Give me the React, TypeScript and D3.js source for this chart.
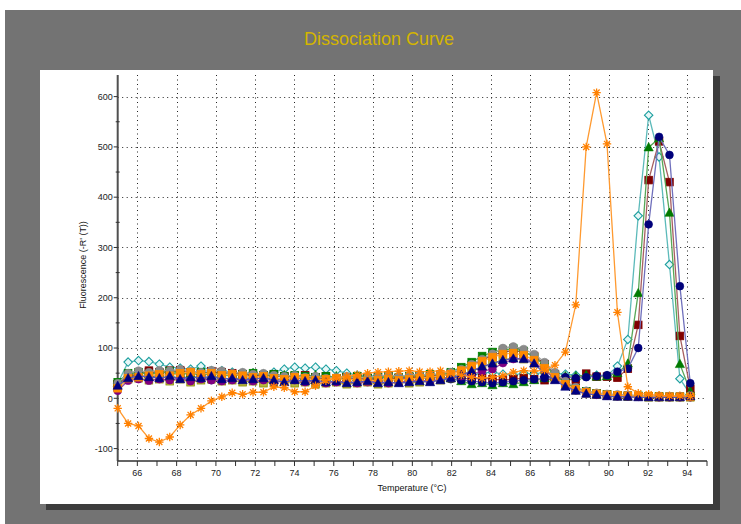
import React from 'react';
import * as d3 from 'd3';

// Melt-step temperatures (°C), shared by every well
const temperatures = [
  65.0, 65.53, 66.06, 66.59, 67.12, 67.65, 68.18, 68.71, 69.24, 69.77,
  70.3, 70.83, 71.36, 71.89, 72.42, 72.95, 73.48, 74.01, 74.54, 75.07,
  75.6, 76.13, 76.66, 77.19, 77.72, 78.25, 78.78, 79.31, 79.84, 80.37,
  80.9, 81.43, 81.96, 82.49, 83.02, 83.55, 84.08, 84.61, 85.14, 85.67,
  86.2, 86.73, 87.26, 87.79, 88.32, 88.85, 89.38, 89.91, 90.44, 90.97,
  91.5, 92.03, 92.56, 93.09, 93.62, 94.15,
];

const tempTicks = [66, 68, 70, 72, 74, 76, 78, 80, 82, 84, 86, 88, 90, 92, 94];
const tempMinorTicks = [65, 67, 69, 71, 73, 75, 77, 79, 81, 83, 85, 87, 89, 91, 93, 95];
const fluorTicks = [-100, 0, 100, 200, 300, 400, 500, 600];
const fluorMinorTicks = [-50, 50, 150, 250, 350, 450, 550];

// -R'(T) per well
const tealDiamond = [
  30, 72, 75, 73, 68, 62, 60, 58, 64, 55, 55, 52, 50, 50, 48, 52, 58, 62, 60, 62,
  58, 55, 50, 46, 45, 44, 46, 42, 44, 45, 44, 46, 45, 44, 46, 50, 52, 48, 46, 50,
  48, 52, 50, 48, 46, 44, 46, 45, 64, 117, 363, 563, 480, 266, 39, 8,
];
const maroonSquareHigh = [
  28, 45, 48, 52, 50, 55, 54, 48, 50, 46, 52, 50, 48, 46, 44, 45, 42, 44, 46, 42,
  44, 40, 42, 44, 40, 42, 44, 40, 42, 44, 42, 40, 42, 40, 38, 40, 38, 36, 38, 40,
  38, 36, 38, 37, 37, 49, 43, 43, 41, 59, 146, 434, 511, 430, 124, 19,
];
const greenTriangleHigh = [
  30, 48, 50, 48, 52, 50, 48, 50, 46, 48, 46, 44, 48, 50, 46, 44, 46, 42, 44, 46,
  42, 44, 40, 42, 44, 40, 42, 44, 42, 40, 44, 42, 40, 34, 28, 30, 26, 30, 28, 32,
  36, 40, 42, 44, 44, 46, 43, 44, 50, 69, 209, 499, 517, 369, 68, 14,
];
const navyCircleHigh = [
  25, 42, 45, 44, 42, 40, 42, 40, 44, 36, 40, 38, 40, 38, 42, 38, 36, 40, 38, 40,
  36, 38, 40, 36, 38, 40, 36, 38, 40, 38, 42, 40, 38, 36, 34, 32, 30, 32, 34, 36,
  38, 40, 40, 42, 40, 42, 44, 46, 53, 59, 100, 346, 520, 484, 223, 30,
];
const oliveSquare = [
  22, 38, 40, 36, 38, 34, 38, 32, 36, 38, 34, 36, 32, 34, 30, 32, 34, 30, 32, 28,
  30, 32, 28, 30, 32, 28, 30, 32, 30, 32, 34, 36, 40, 46, 54, 62, 70, 76, 80, 78,
  70, 56, 40, 26, 16, 10, 7, 5, 4, 3, 3, 2, 2, 2, 2, 2,
];
const maroonSquareLow = [
  28, 42, 48, 55, 52, 50, 56, 52, 48, 54, 50, 46, 48, 44, 46, 48, 44, 42, 40, 42,
  38, 40, 42, 38, 40, 36, 38, 40, 42, 40, 44, 46, 50, 56, 66, 76, 86, 92, 95, 92,
  84, 68, 48, 32, 20, 14, 10, 8, 6, 5, 4, 4, 3, 3, 3, 5,
];
const greenSquare = [
  32, 50, 52, 48, 50, 54, 50, 48, 52, 48, 50, 46, 48, 50, 46, 48, 44, 46, 44, 42,
  44, 40, 42, 44, 40, 42, 44, 42, 44, 46, 48, 46, 52, 62, 72, 84, 92, 96, 99, 94,
  82, 66, 46, 30, 20, 14, 10, 8, 6, 5, 5, 4, 4, 3, 3, 4,
];
const grayCircle = [
  30, 50, 55, 52, 56, 55, 58, 54, 52, 56, 55, 50, 52, 48, 50, 46, 44, 46, 42, 44,
  40, 42, 44, 40, 42, 44, 46, 44, 46, 48, 46, 50, 52, 58, 68, 78, 89, 100, 103, 98,
  88, 72, 52, 34, 22, 15, 11, 9, 8, 7, 6, 5, 5, 4, 4, 6,
];
const purpleCircle = [
  15, 35, 38, 35, 38, 36, 40, 34, 38, 36, 34, 36, 38, 34, 36, 32, 34, 36, 32, 34,
  30, 32, 34, 30, 32, 34, 30, 32, 34, 36, 34, 38, 42, 44, 48, 54, 58, 70, 78, 80,
  72, 56, 40, 26, 16, 10, 7, 5, 4, 4, 3, 3, 2, 2, 2, 2,
];
const orangeSquare = [
  20, 40, 42, 45, 48, 45, 50, 52, 48, 50, 46, 48, 45, 42, 44, 40, 38, 42, 40, 36,
  38, 40, 36, 38, 34, 36, 38, 36, 38, 40, 42, 44, 48, 55, 64, 74, 82, 88, 90, 86,
  76, 60, 42, 28, 18, 12, 9, 7, 6, 5, 4, 4, 3, 3, 3, 3,
];
const navyTriangle = [
  25, 40, 44, 42, 40, 44, 38, 42, 40, 44, 38, 40, 36, 38, 40, 36, 32, 36, 34, 36,
  32, 34, 30, 32, 34, 30, 32, 30, 32, 34, 32, 36, 40, 46, 54, 63, 69, 76, 79, 78,
  69, 49, 36, 23, 15, 9, 7, 4, 3, 3, 2, 2, 2, 2, 2, 4,
];
const orangeStar = [
  -20, -50, -55, -80, -87, -77, -53, -33, -20, -5, 3, 11, 8, 12, 12, 23, 21, 13, 13, 25,
  35, 40, 44, 47, 50, 52, 53, 54, 55, 53, 53, 55, 50, 46, 42, 40, 42, 45, 52, 55,
  54, 56, 66, 92, 186, 500, 608, 506, 171, 23, 10, 8, 6, 5, 5, 4,
];

type Marker = 'circle' | 'square' | 'triangle' | 'diamond' | 'star';
interface Series {
  values: number[];
  color: string;
  line: string;
  marker: Marker;
  fill?: string;
}

const seriesList: Series[] = [
  { values: tealDiamond, color: '#1a9e9e', line: '#5cbaba', marker: 'diamond', fill: '#e6f7f7' },
  { values: maroonSquareHigh, color: '#800000', line: '#a86060', marker: 'square' },
  { values: greenTriangleHigh, color: '#007a00', line: '#58a858', marker: 'triangle' },
  { values: navyCircleHigh, color: '#00007a', line: '#7070bc', marker: 'circle' },
  { values: oliveSquare, color: '#8c8c00', line: '#a8a840', marker: 'square', fill: '#b8b840' },
  { values: maroonSquareLow, color: '#7a0000', line: '#a05050', marker: 'square' },
  { values: greenSquare, color: '#008000', line: '#58a858', marker: 'square' },
  { values: grayCircle, color: '#8a8a8a', line: '#a4a4a4', marker: 'circle' },
  { values: purpleCircle, color: '#800080', line: '#a050a0', marker: 'circle' },
  { values: orangeSquare, color: '#ff8a00', line: '#ffa840', marker: 'square' },
  { values: navyTriangle, color: '#000080', line: '#5858b4', marker: 'triangle' },
  { values: orangeStar, color: '#ff8000', line: '#ff9a30', marker: 'star' },
];

const W = 741;
const H = 524;
const plot = { left: 117.7, right: 707, top: 75, bottom: 461 };
const font = '"Liberation Sans", Arial, Helvetica, sans-serif';

const x = d3.scaleLinear().domain([65, 95]).range([plot.left, plot.right]);
const y = d3.scaleLinear().domain([-124.7, 643]).range([plot.bottom, plot.top]);

function MarkerShape({ kind, cx, cy, color, fill }: { kind: Marker; cx: number; cy: number; color: string; fill?: string }) {
  switch (kind) {
    case 'circle':
      return <circle cx={cx} cy={cy} r={3.9} fill={color} stroke={color} strokeWidth={0.6} />;
    case 'square':
      return (
        <rect x={cx - 3.8} y={cy - 3.8} width={7.6} height={7.6} fill={fill ?? color} stroke={color} strokeWidth={0.8} />
      );
    case 'triangle':
      return (
        <path d={`M${cx},${cy - 4.8}L${cx + 4.6},${cy + 3.5}L${cx - 4.6},${cy + 3.5}Z`} fill={color} stroke={color} strokeWidth={0.6} />
      );
    case 'diamond':
      return (
        <path d={`M${cx},${cy - 4.2}L${cx + 4.2},${cy}L${cx},${cy + 4.2}L${cx - 4.2},${cy}Z`} fill={fill ?? '#fff'} stroke={color} strokeWidth={1.1} />
      );
    case 'star': {
      const r = 4.2;
      const d = r * 0.72;
      return (
        <path
          d={`M${cx - r},${cy}H${cx + r}M${cx},${cy - r}V${cy + r}M${cx - d},${cy - d}L${cx + d},${cy + d}M${cx - d},${cy + d}L${cx + d},${cy - d}`}
          stroke={color}
          strokeWidth={1.3}
          fill="none"
        />
      );
    }
  }
}

export default function App() {
  const line = d3
    .line<number>()
    .x((_, i) => x(temperatures[i]))
    .y((v) => y(v));

  return (
    <svg
      width={W}
      height={H}
      viewBox={`0 0 ${W} ${H}`}
      style={{ position: 'absolute', left: 0, top: 0, display: 'block' }}
    >
      <rect x={0} y={0} width={W} height={H} fill="#ffffff" />
      <rect x={5} y={10} width={W - 5} height={H - 10} fill="#737373" />
      <text x={379} y={45} textAnchor="middle" fontFamily={font} fontSize={18} fill="#d4b500">
        Dissociation Curve
      </text>

      {/* panel shadow and panel */}
      <rect x={46} y={76} width={674} height={434} fill="#3c3c3c" />
      <rect x={40} y={70} width={673} height={434} fill="#ffffff" />

      {/* dotted grid */}
      <g stroke="#222" strokeWidth={1} strokeDasharray="1,3.5">
        {tempTicks.map((t) => (
          <line key={`gx${t}`} x1={Math.round(x(t)) + 0.5} x2={Math.round(x(t)) + 0.5} y1={plot.top} y2={plot.bottom} />
        ))}
        {fluorTicks.map((t) => (
          <line key={`gy${t}`} x1={plot.left} x2={plot.right} y1={Math.round(y(t)) + 0.5} y2={Math.round(y(t)) + 0.5} />
        ))}
      </g>

      {/* axes */}
      <line x1={plot.left} x2={plot.left} y1={plot.top} y2={plot.bottom} stroke="#505050" strokeWidth={2} />
      <line x1={plot.left} x2={plot.right} y1={plot.bottom} y2={plot.bottom} stroke="#303030" strokeWidth={1.5} />
      <g stroke="#303030" strokeWidth={1}>
        {tempTicks.concat(tempMinorTicks).map((t) => (
          <line key={`tx${t}`} x1={x(t)} x2={x(t)} y1={plot.bottom} y2={plot.bottom + 5} />
        ))}
        {fluorTicks.map((t) => (
          <line key={`ty${t}`} x1={plot.left - 4} x2={plot.left} y1={y(t)} y2={y(t)} />
        ))}
        {fluorMinorTicks.map((t) => (
          <line key={`tym${t}`} x1={plot.left - 2} x2={plot.left + 2} y1={y(t)} y2={y(t)} />
        ))}
      </g>
      <g fontFamily={font} fontSize={9} fill="#222">
        {tempTicks.map((t) => (
          <text key={`lx${t}`} x={x(t)} y={plot.bottom + 15} textAnchor="middle">
            {t}
          </text>
        ))}
        {fluorTicks.map((t) => (
          <text key={`ly${t}`} x={plot.left - 5} y={y(t) + 3.2} textAnchor="end">
            {t}
          </text>
        ))}
      </g>
      <text x={412} y={491} textAnchor="middle" fontFamily={font} fontSize={9} fill="#111">
        Temperature (°C)
      </text>
      <text transform={`translate(86,265) rotate(-90)`} textAnchor="middle" fontFamily={font} fontSize={9} fill="#111">
        Fluorescence (-R' (T))
      </text>

      {/* curves */}
      {seriesList.map((s, si) => (
        <g key={`s${si}`}>
          <path d={line(s.values) ?? ''} fill="none" stroke={s.line} strokeWidth={1.3} />
          {s.values.map((v, i) => (
            <MarkerShape key={i} kind={s.marker} cx={x(temperatures[i])} cy={y(v)} color={s.color} fill={s.fill} />
          ))}
        </g>
      ))}
    </svg>
  );
}
